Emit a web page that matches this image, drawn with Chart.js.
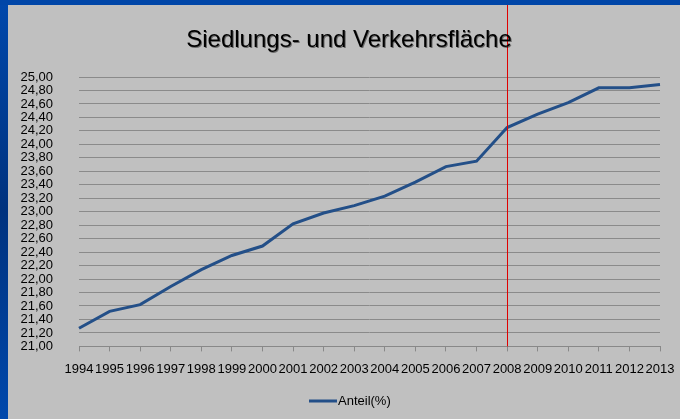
<!DOCTYPE html>
<html>
<head>
<meta charset="utf-8">
<script src="https://cdn.jsdelivr.net/npm/chart.js@4/dist/chart.umd.min.js"></script>
<style>
  html, body { margin: 0; padding: 0; }
  body {
    width: 680px; height: 419px; overflow: hidden;
    background: linear-gradient(to bottom, #0048ac 0%, #00327e 50%, #0048ac 100%);
    position: relative;
  }
  #topbar { position: absolute; left: 0; top: 0; width: 680px; height: 5px; background: #0046a8; }
  #box { position: absolute; left: 8px; top: 5px; width: 672px; height: 414px; background: #c0c0c0; }
</style>
</head>
<body>
<div id="topbar"></div>
<div id="box"><canvas id="chartLinea" width="672" height="414"></canvas></div>
<script>
// ==================== DATOS ====================
const titel = 'Siedlungs- und Verkehrsfläche';
const serienName = 'Anteil(%)';
const jahre = ['1994','1995','1996','1997','1998','1999','2000','2001','2002','2003',
               '2004','2005','2006','2007','2008','2009','2010','2011','2012','2013'];
const anteil = [21.27, 21.52, 21.62, 21.89, 22.14, 22.35, 22.49, 22.82, 22.98, 23.09,
                23.23, 23.44, 23.67, 23.75, 24.25, 24.45, 24.62, 24.84, 24.84, 24.89];
const yMin = 21, yMax = 25, yStep = 0.2;
const markierung = '2008';
const linienFarbe = '#234f88';
const schrift = '"Liberation Sans", Arial, sans-serif';

// title, legend and red marker line at 2008
const deckPlugin = {
    id: 'deck',
    afterDraw(chart) {
        const ctx = chart.ctx;
        const x = Math.round(chart.scales.x.getPixelForValue(jahre.indexOf(markierung))) + 0.5;
        ctx.save();
        ctx.strokeStyle = '#e00000';
        ctx.lineWidth = 1;
        ctx.beginPath();
        ctx.moveTo(x, 0);
        ctx.lineTo(x, chart.chartArea.bottom);
        ctx.stroke();

        // Titel
        ctx.font = '24px ' + schrift;
        ctx.fillStyle = '#000';
        ctx.textAlign = 'center';
        ctx.textBaseline = 'alphabetic';
        ctx.shadowColor = 'rgba(0,0,0,0.45)';
        ctx.shadowOffsetX = 1;
        ctx.shadowOffsetY = 1;
        ctx.fillText(titel, 341, 42);
        ctx.shadowColor = 'transparent';

        // Legende
        ctx.strokeStyle = linienFarbe;
        ctx.lineWidth = 3;
        ctx.beginPath();
        ctx.moveTo(301, 396);
        ctx.lineTo(329, 396);
        ctx.stroke();
        ctx.font = '13px ' + schrift;
        ctx.textAlign = 'left';
        ctx.textBaseline = 'middle';
        ctx.fillText(serienName, 330, 396);
        ctx.restore();
    }
};

Chart.defaults.font.family = schrift;
Chart.defaults.color = '#000';

new Chart(document.getElementById('chartLinea').getContext('2d'), {
    type: 'line',
    data: {
        labels: jahre,
        datasets: [{
            label: serienName,
            data: anteil,
            borderColor: linienFarbe,
            backgroundColor: linienFarbe,
            borderWidth: 3,
            pointRadius: 0,
            tension: 0,
            fill: false
        }]
    },
    options: {
        responsive: false,
        animation: false,
        layout: { padding: { left: 0, right: 20, top: 72, bottom: 32 } },
        plugins: {
            title: { display: false },
            legend: { display: false },
            tooltip: { enabled: false }
        },
        scales: {
            x: {
                offset: false,
                afterFit(scale) { scale.paddingLeft = 0; scale.paddingRight = 0; },
                grid: { drawOnChartArea: false, color: '#888', tickLength: 5 },
                border: { display: true, color: '#888' },
                ticks: { autoSkip: false, maxRotation: 0, minRotation: 0, padding: 10,
                         font: { size: 13 }, color: '#000' }
            },
            y: {
                min: yMin,
                max: yMax,
                afterFit(scale) { scale.width = 71; },
                grid: { color: '#8a8a8a', drawTicks: false },
                border: { display: false },
                ticks: {
                    stepSize: yStep,
                    autoSkip: false,
                    padding: 26,
                    font: { size: 13 },
                    color: '#000',
                    callback: v => v.toFixed(2).replace('.', ',')
                }
            }
        }
    },
    plugins: [deckPlugin]
});
</script>
</body>
</html>
